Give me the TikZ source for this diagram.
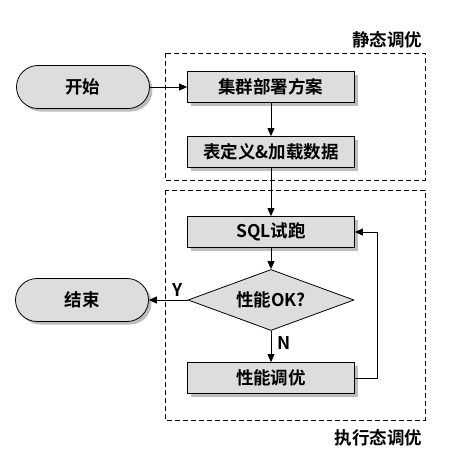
\documentclass[tikz,border=0pt]{standalone}
\usepackage{fontspec}
\setmainfont{Noto Sans CJK SC}[BoldFont={Noto Sans CJK SC Bold}]
\usetikzlibrary{arrows.meta,shapes.geometric,shadows}
\definecolor{boxfill}{HTML}{DDDDDD}
\definecolor{shadowc}{HTML}{BDBDBD}
\tikzset{
  shad/.style={drop shadow={shadow xshift=3pt,shadow yshift=-3pt,fill=shadowc,opacity=1}},
  txt/.style={font=\fontsize{17.5}{20}\selectfont\bfseries},
  procbox/.style={txt,draw,line width=0.8pt,fill=boxfill,shad,minimum width=167pt,minimum height=31pt,inner sep=0pt},
  term/.style={txt,draw,line width=0.8pt,fill=boxfill,shad,minimum width=133pt,minimum height=43pt,rounded corners=21.5pt,inner sep=0pt},
  decide/.style={txt,draw,line width=0.8pt,fill=boxfill,diamond,aspect=2.7,minimum width=166pt,minimum height=61pt,inner sep=0pt},
  conn/.style={line width=0.8pt,-{Triangle[length=8pt,width=7pt]}},
  zone/.style={line width=0.8pt,dash pattern=on 5pt off 3pt},
  zlabel/.style={txt,anchor=east}
}
\begin{document}
\begin{tikzpicture}[x=1pt,y=-1pt]
\useasboundingbox (0,0) rectangle (454,467);
% zones
\draw[zone] (165,53) rectangle (425,180);
\draw[zone] (165,190) rectangle (425,420);
\node[zlabel] (lab1) at (426,40) {静态调优};
\node[zlabel] (lab2) at (426,438) {执行态调优};
% nodes
\node[term] (start) at (83,87) {开始};
\node[procbox] (plan) at (271,87) {集群部署方案};
\node[procbox] (load) at (271,152) {表定义\&加载数据};
\node[procbox] (sql) at (271,232) {SQL试跑};
\node[decide] (ok) at (271,300) {性能OK?};
\node[term] (stop) at (82,300) {结束};
\node[procbox] (tune) at (271,378) {性能调优};
\coordinate (loop) at (377,378);
% connectors
\draw[conn] (start) -- (plan);
\draw[conn] (plan) -- (load);
\draw[conn] (load) -- (sql);
\draw[conn] (sql) -- (ok);
\draw[conn] (ok) -- node[txt,above,pos=0.27] (ylab) {Y} (stop);
\draw[conn] (ok) -- node[txt,right,pos=0.4,xshift=3pt] (nlab) {N} (tune);
\draw[conn] (tune.east) -- (loop) |- (sql.east);
\end{tikzpicture}
\end{document}
